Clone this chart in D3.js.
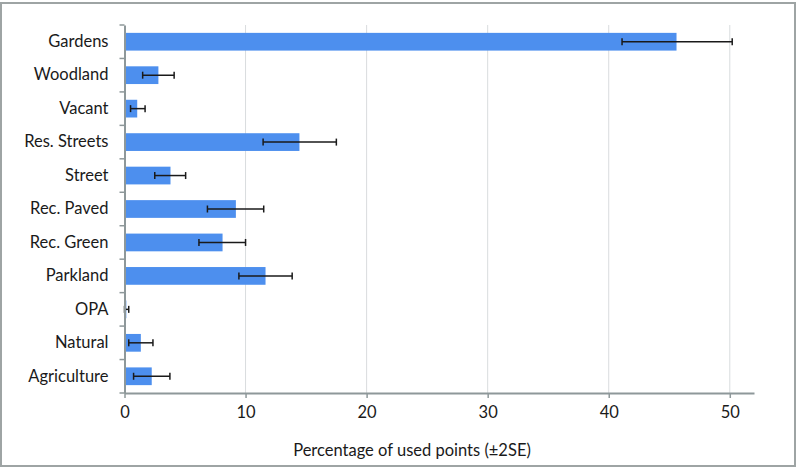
<!DOCTYPE html>
<html><head><meta charset="utf-8">
<script src="https://cdn.jsdelivr.net/npm/d3@7"></script>
<style>body{margin:0;background:#fff}svg{display:block}text{font-family:Lato,"Open Sans",sans-serif;fill:#1a1a1a}</style>
</head><body>
<script>
const categories = ["Gardens","Woodland","Vacant","Res. Streets","Street","Rec. Paved","Rec. Green","Parkland","OPA","Natural","Agriculture"];
const values = [45.6,2.8,1.05,14.45,3.8,9.2,8.1,11.65,0.15,1.35,2.25];
const errLow = [41.1,1.5,0.5,11.45,2.5,6.85,6.15,9.45,0.0,0.35,0.75];
const errHigh = [50.2,4.1,1.7,17.5,5.05,11.5,10.0,13.85,0.35,2.35,3.75];
const xTicks = [0,10,20,30,40,50];
const xTitle = "Percentage of used points (\u00b12SE)";

const W=796,H=468;
const m={left:124.5,right:42,top:25,bottom:75};
const FS=16.5;
const svg=d3.select("body").append("svg").attr("width",W).attr("height",H);
svg.append("rect").attr("x",1).attr("y",3).attr("width",794).attr("height",463)
  .attr("fill","#fff").attr("stroke","#9ea4a4").attr("stroke-width",2);

const x=d3.scaleLinear().domain([0,52]).range([m.left,W-m.right]);
const y=d3.scaleBand().domain(categories).range([m.top,H-m.bottom]).paddingInner(0.47).paddingOuter(0.235);
const yb=d3.scaleBand().domain(categories).range([m.top,H-m.bottom]);

// gridlines
svg.append("g").selectAll("line").data(xTicks.filter(d=>d>0)).join("line")
  .attr("x1",d=>x(d)).attr("x2",d=>x(d)).attr("y1",m.top).attr("y2",H-m.bottom)
  .attr("stroke","#d9dcde").attr("stroke-width",1);

// bars
svg.append("g").selectAll("rect").data(categories).join("rect")
  .attr("x",x(0)).attr("y",d=>y(d)).attr("height",y.bandwidth())
  .attr("width",(d,i)=>x(values[i])-x(0)).attr("fill","#4d8fee");

// error bars
const eg=svg.append("g").attr("stroke","#1a1a1a").attr("stroke-width",1.5);
categories.forEach((c,i)=>{
  const cy=y(c)+y.bandwidth()/2;
  eg.append("line").attr("x1",x(errLow[i])).attr("x2",x(errHigh[i])).attr("y1",cy).attr("y2",cy);
  [errLow[i],errHigh[i]].forEach(v=>eg.append("line").attr("x1",x(v)).attr("x2",x(v)).attr("y1",cy-3.5).attr("y2",cy+3.5));
});

// x axis
const xa=svg.append("g").attr("transform",`translate(0,${H-m.bottom})`)
  .call(d3.axisBottom(x).tickValues(xTicks).tickSize(5).tickPadding(8).tickSizeOuter(0));
xa.select(".domain").attr("stroke","#8e989a").attr("stroke-width",2);
xa.selectAll(".tick line").attr("stroke","#8e989a").attr("stroke-width",1.5);
xa.selectAll(".tick text").attr("font-size",FS).style("font-family","Lato,sans-serif").attr("fill","#1a1a1a");

// y axis
const ya=svg.append("g").attr("transform",`translate(${m.left},0)`)
  .call(d3.axisLeft(yb).tickSize(0).tickPadding(16).tickSizeOuter(0));
ya.select(".domain").attr("stroke","#8e989a").attr("stroke-width",2);
ya.selectAll(".tick text").attr("font-size",FS).style("font-family","Lato,sans-serif").attr("fill","#1a1a1a");
ya.append("g").selectAll("line").data(d3.range(categories.length+1)).join("line")
  .attr("x1",-5).attr("x2",0).attr("y1",i=>m.top+i*yb.step()).attr("y2",i=>m.top+i*yb.step())
  .attr("stroke","#8e989a").attr("stroke-width",1.5);

svg.append("text").attr("x",412).attr("y",456).attr("text-anchor","middle")
  .attr("font-size",FS).text(xTitle);
</script>
</body></html>
